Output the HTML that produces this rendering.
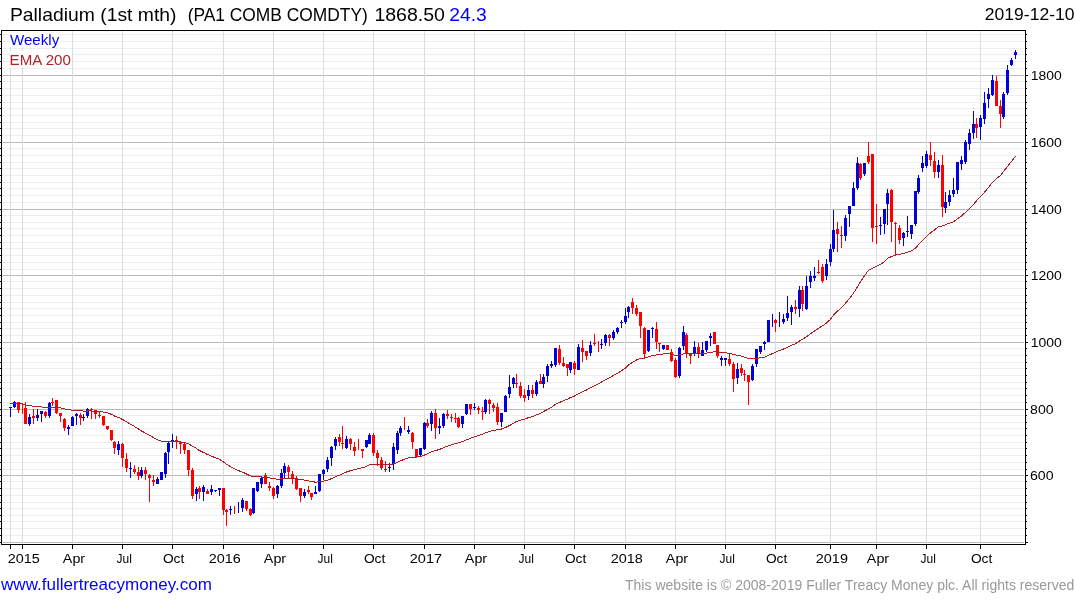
<!DOCTYPE html>
<html><head><meta charset="utf-8"><style>
html,body{margin:0;padding:0;background:#fff;width:1075px;height:600px;overflow:hidden}
svg{display:block;font-family:"Liberation Sans",sans-serif;will-change:transform}
</style></head><body>
<svg width="1075" height="600" viewBox="0 0 1075 600">
<rect x="0" y="0" width="1075" height="600" fill="#fff"/>
<g shape-rendering="crispEdges"><rect x="2" y="542" width="1022" height="1" fill="#b9b9b9"/><rect x="2" y="535" width="1022" height="1" fill="#eeeeee"/><rect x="2" y="528" width="1022" height="1" fill="#eeeeee"/><rect x="2" y="521" width="1022" height="1" fill="#eeeeee"/><rect x="2" y="515" width="1022" height="1" fill="#eeeeee"/><rect x="2" y="508" width="1022" height="1" fill="#eeeeee"/><rect x="2" y="502" width="1022" height="1" fill="#eeeeee"/><rect x="2" y="495" width="1022" height="1" fill="#eeeeee"/><rect x="2" y="488" width="1022" height="1" fill="#eeeeee"/><rect x="2" y="481" width="1022" height="1" fill="#eeeeee"/><rect x="2" y="475" width="1022" height="1" fill="#b9b9b9"/><rect x="2" y="469" width="1022" height="1" fill="#eeeeee"/><rect x="2" y="462" width="1022" height="1" fill="#eeeeee"/><rect x="2" y="455" width="1022" height="1" fill="#eeeeee"/><rect x="2" y="448" width="1022" height="1" fill="#eeeeee"/><rect x="2" y="442" width="1022" height="1" fill="#eeeeee"/><rect x="2" y="435" width="1022" height="1" fill="#eeeeee"/><rect x="2" y="428" width="1022" height="1" fill="#eeeeee"/><rect x="2" y="422" width="1022" height="1" fill="#eeeeee"/><rect x="2" y="415" width="1022" height="1" fill="#eeeeee"/><rect x="2" y="409" width="1022" height="1" fill="#b9b9b9"/><rect x="2" y="402" width="1022" height="1" fill="#eeeeee"/><rect x="2" y="395" width="1022" height="1" fill="#eeeeee"/><rect x="2" y="388" width="1022" height="1" fill="#eeeeee"/><rect x="2" y="382" width="1022" height="1" fill="#eeeeee"/><rect x="2" y="375" width="1022" height="1" fill="#eeeeee"/><rect x="2" y="368" width="1022" height="1" fill="#eeeeee"/><rect x="2" y="362" width="1022" height="1" fill="#eeeeee"/><rect x="2" y="355" width="1022" height="1" fill="#eeeeee"/><rect x="2" y="348" width="1022" height="1" fill="#eeeeee"/><rect x="2" y="342" width="1022" height="1" fill="#b9b9b9"/><rect x="2" y="335" width="1022" height="1" fill="#eeeeee"/><rect x="2" y="328" width="1022" height="1" fill="#eeeeee"/><rect x="2" y="322" width="1022" height="1" fill="#eeeeee"/><rect x="2" y="315" width="1022" height="1" fill="#eeeeee"/><rect x="2" y="308" width="1022" height="1" fill="#eeeeee"/><rect x="2" y="302" width="1022" height="1" fill="#eeeeee"/><rect x="2" y="295" width="1022" height="1" fill="#eeeeee"/><rect x="2" y="288" width="1022" height="1" fill="#eeeeee"/><rect x="2" y="281" width="1022" height="1" fill="#eeeeee"/><rect x="2" y="275" width="1022" height="1" fill="#b9b9b9"/><rect x="2" y="269" width="1022" height="1" fill="#eeeeee"/><rect x="2" y="262" width="1022" height="1" fill="#eeeeee"/><rect x="2" y="255" width="1022" height="1" fill="#eeeeee"/><rect x="2" y="248" width="1022" height="1" fill="#eeeeee"/><rect x="2" y="242" width="1022" height="1" fill="#eeeeee"/><rect x="2" y="235" width="1022" height="1" fill="#eeeeee"/><rect x="2" y="228" width="1022" height="1" fill="#eeeeee"/><rect x="2" y="222" width="1022" height="1" fill="#eeeeee"/><rect x="2" y="215" width="1022" height="1" fill="#eeeeee"/><rect x="2" y="209" width="1022" height="1" fill="#b9b9b9"/><rect x="2" y="202" width="1022" height="1" fill="#eeeeee"/><rect x="2" y="195" width="1022" height="1" fill="#eeeeee"/><rect x="2" y="188" width="1022" height="1" fill="#eeeeee"/><rect x="2" y="182" width="1022" height="1" fill="#eeeeee"/><rect x="2" y="175" width="1022" height="1" fill="#eeeeee"/><rect x="2" y="168" width="1022" height="1" fill="#eeeeee"/><rect x="2" y="162" width="1022" height="1" fill="#eeeeee"/><rect x="2" y="155" width="1022" height="1" fill="#eeeeee"/><rect x="2" y="148" width="1022" height="1" fill="#eeeeee"/><rect x="2" y="142" width="1022" height="1" fill="#b9b9b9"/><rect x="2" y="135" width="1022" height="1" fill="#eeeeee"/><rect x="2" y="128" width="1022" height="1" fill="#eeeeee"/><rect x="2" y="122" width="1022" height="1" fill="#eeeeee"/><rect x="2" y="115" width="1022" height="1" fill="#eeeeee"/><rect x="2" y="108" width="1022" height="1" fill="#eeeeee"/><rect x="2" y="102" width="1022" height="1" fill="#eeeeee"/><rect x="2" y="95" width="1022" height="1" fill="#eeeeee"/><rect x="2" y="88" width="1022" height="1" fill="#eeeeee"/><rect x="2" y="81" width="1022" height="1" fill="#eeeeee"/><rect x="2" y="75" width="1022" height="1" fill="#b9b9b9"/><rect x="2" y="68" width="1022" height="1" fill="#eeeeee"/><rect x="2" y="61" width="1022" height="1" fill="#eeeeee"/><rect x="2" y="54" width="1022" height="1" fill="#eeeeee"/><rect x="2" y="48" width="1022" height="1" fill="#eeeeee"/><rect x="2" y="41" width="1022" height="1" fill="#eeeeee"/><rect x="2" y="34" width="1022" height="1" fill="#eeeeee"/><rect x="10" y="31" width="1" height="513" fill="#dcdcdc"/><rect x="22" y="31" width="1" height="513" fill="#dcdcdc"/><rect x="72" y="31" width="1" height="513" fill="#dcdcdc"/><rect x="122" y="31" width="1" height="513" fill="#dcdcdc"/><rect x="172" y="31" width="1" height="513" fill="#dcdcdc"/><rect x="223" y="31" width="1" height="513" fill="#dcdcdc"/><rect x="273" y="31" width="1" height="513" fill="#dcdcdc"/><rect x="323" y="31" width="1" height="513" fill="#dcdcdc"/><rect x="373" y="31" width="1" height="513" fill="#dcdcdc"/><rect x="424" y="31" width="1" height="513" fill="#dcdcdc"/><rect x="474" y="31" width="1" height="513" fill="#dcdcdc"/><rect x="524" y="31" width="1" height="513" fill="#dcdcdc"/><rect x="574" y="31" width="1" height="513" fill="#dcdcdc"/><rect x="625" y="31" width="1" height="513" fill="#dcdcdc"/><rect x="675" y="31" width="1" height="513" fill="#dcdcdc"/><rect x="725" y="31" width="1" height="513" fill="#dcdcdc"/><rect x="775" y="31" width="1" height="513" fill="#dcdcdc"/><rect x="830" y="31" width="1" height="513" fill="#dcdcdc"/><rect x="876" y="31" width="1" height="513" fill="#dcdcdc"/><rect x="926" y="31" width="1" height="513" fill="#dcdcdc"/><rect x="980" y="31" width="1" height="513" fill="#dcdcdc"/></g>
<rect x="10" y="31" width="50" height="16" fill="#fff"/>
<rect x="10" y="51" width="62" height="17" fill="#fff"/>
<g shape-rendering="crispEdges"><rect x="10" y="407" width="1" height="10" fill="#0000dd"/><rect x="9" y="407" width="3" height="1" fill="#0000dd"/><rect x="14" y="401" width="1" height="7" fill="#0000dd"/><rect x="13" y="402" width="3" height="5" fill="#0000dd"/><rect x="18" y="402" width="1" height="11" fill="#ff0000"/><rect x="17" y="402" width="3" height="8" fill="#ff0000"/><rect x="22" y="405" width="1" height="9" fill="#ff0000"/><rect x="25" y="402" width="1" height="22" fill="#ff0000"/><rect x="24" y="408" width="3" height="16" fill="#ff0000"/><rect x="29" y="414" width="1" height="12" fill="#0000dd"/><rect x="28" y="417" width="3" height="7" fill="#0000dd"/><rect x="33" y="409" width="1" height="15" fill="#ff0000"/><rect x="32" y="416" width="3" height="2" fill="#ff0000"/><rect x="37" y="409" width="1" height="12" fill="#0000dd"/><rect x="36" y="415" width="3" height="3" fill="#0000dd"/><rect x="41" y="411" width="1" height="11" fill="#0000dd"/><rect x="40" y="411" width="3" height="3" fill="#0000dd"/><rect x="45" y="411" width="1" height="7" fill="#ff0000"/><rect x="44" y="412" width="3" height="4" fill="#ff0000"/><rect x="49" y="402" width="1" height="16" fill="#0000dd"/><rect x="48" y="403" width="3" height="13" fill="#0000dd"/><rect x="52" y="398" width="1" height="8" fill="#ff0000"/><rect x="51" y="402" width="3" height="1" fill="#ff0000"/><rect x="56" y="400" width="1" height="14" fill="#ff0000"/><rect x="55" y="400" width="3" height="13" fill="#ff0000"/><rect x="60" y="413" width="1" height="9" fill="#ff0000"/><rect x="59" y="413" width="3" height="3" fill="#ff0000"/><rect x="64" y="418" width="1" height="13" fill="#ff0000"/><rect x="63" y="419" width="3" height="9" fill="#ff0000"/><rect x="68" y="425" width="1" height="10" fill="#0000dd"/><rect x="67" y="427" width="3" height="2" fill="#0000dd"/><rect x="72" y="416" width="1" height="10" fill="#0000dd"/><rect x="71" y="417" width="3" height="9" fill="#0000dd"/><rect x="76" y="413" width="1" height="12" fill="#0000dd"/><rect x="75" y="414" width="3" height="2" fill="#0000dd"/><rect x="80" y="413" width="1" height="12" fill="#ff0000"/><rect x="79" y="415" width="3" height="3" fill="#ff0000"/><rect x="83" y="414" width="1" height="7" fill="#0000dd"/><rect x="82" y="417" width="3" height="1" fill="#0000dd"/><rect x="87" y="408" width="1" height="10" fill="#0000dd"/><rect x="86" y="409" width="3" height="7" fill="#0000dd"/><rect x="91" y="408" width="1" height="11" fill="#ff0000"/><rect x="90" y="409" width="3" height="1" fill="#ff0000"/><rect x="95" y="410" width="1" height="9" fill="#ff0000"/><rect x="94" y="410" width="3" height="4" fill="#ff0000"/><rect x="99" y="412" width="1" height="6" fill="#ff0000"/><rect x="98" y="415" width="3" height="1" fill="#ff0000"/><rect x="103" y="416" width="1" height="10" fill="#ff0000"/><rect x="102" y="416" width="3" height="9" fill="#ff0000"/><rect x="107" y="426" width="1" height="4" fill="#ff0000"/><rect x="106" y="426" width="3" height="3" fill="#ff0000"/><rect x="111" y="430" width="1" height="11" fill="#ff0000"/><rect x="110" y="430" width="3" height="10" fill="#ff0000"/><rect x="114" y="441" width="1" height="13" fill="#ff0000"/><rect x="113" y="442" width="3" height="6" fill="#ff0000"/><rect x="118" y="441" width="1" height="14" fill="#0000dd"/><rect x="117" y="444" width="3" height="6" fill="#0000dd"/><rect x="122" y="443" width="1" height="24" fill="#ff0000"/><rect x="121" y="444" width="3" height="14" fill="#ff0000"/><rect x="126" y="453" width="1" height="19" fill="#ff0000"/><rect x="125" y="459" width="3" height="9" fill="#ff0000"/><rect x="130" y="462" width="1" height="16" fill="#0000dd"/><rect x="129" y="468" width="3" height="1" fill="#0000dd"/><rect x="134" y="465" width="1" height="9" fill="#ff0000"/><rect x="133" y="469" width="3" height="3" fill="#ff0000"/><rect x="138" y="467" width="1" height="13" fill="#ff0000"/><rect x="137" y="472" width="3" height="4" fill="#ff0000"/><rect x="141" y="467" width="1" height="11" fill="#0000dd"/><rect x="140" y="470" width="3" height="6" fill="#0000dd"/><rect x="145" y="467" width="1" height="13" fill="#ff0000"/><rect x="144" y="470" width="3" height="4" fill="#ff0000"/><rect x="149" y="474" width="1" height="28" fill="#ff0000"/><rect x="148" y="475" width="3" height="3" fill="#ff0000"/><rect x="153" y="475" width="1" height="11" fill="#ff0000"/><rect x="152" y="480" width="3" height="2" fill="#ff0000"/><rect x="157" y="477" width="1" height="7" fill="#0000dd"/><rect x="156" y="479" width="3" height="5" fill="#0000dd"/><rect x="161" y="472" width="1" height="8" fill="#0000dd"/><rect x="160" y="472" width="3" height="8" fill="#0000dd"/><rect x="165" y="452" width="1" height="26" fill="#0000dd"/><rect x="164" y="453" width="3" height="21" fill="#0000dd"/><rect x="168" y="442" width="1" height="22" fill="#0000dd"/><rect x="167" y="443" width="3" height="9" fill="#0000dd"/><rect x="172" y="434" width="1" height="14" fill="#0000dd"/><rect x="171" y="440" width="3" height="1" fill="#0000dd"/><rect x="176" y="436" width="1" height="13" fill="#ff0000"/><rect x="175" y="440" width="3" height="1" fill="#ff0000"/><rect x="180" y="442" width="1" height="12" fill="#ff0000"/><rect x="179" y="442" width="3" height="2" fill="#ff0000"/><rect x="184" y="443" width="1" height="11" fill="#ff0000"/><rect x="183" y="444" width="3" height="6" fill="#ff0000"/><rect x="188" y="450" width="1" height="26" fill="#ff0000"/><rect x="187" y="450" width="3" height="20" fill="#ff0000"/><rect x="192" y="468" width="1" height="31" fill="#ff0000"/><rect x="191" y="470" width="3" height="26" fill="#ff0000"/><rect x="196" y="487" width="1" height="14" fill="#0000dd"/><rect x="195" y="489" width="3" height="5" fill="#0000dd"/><rect x="199" y="486" width="1" height="13" fill="#ff0000"/><rect x="198" y="488" width="3" height="4" fill="#ff0000"/><rect x="203" y="485" width="1" height="16" fill="#0000dd"/><rect x="202" y="487" width="3" height="5" fill="#0000dd"/><rect x="207" y="489" width="1" height="5" fill="#ff0000"/><rect x="206" y="491" width="3" height="3" fill="#ff0000"/><rect x="211" y="485" width="1" height="10" fill="#0000dd"/><rect x="210" y="489" width="3" height="3" fill="#0000dd"/><rect x="215" y="490" width="1" height="2" fill="#0000dd"/><rect x="214" y="490" width="3" height="1" fill="#0000dd"/><rect x="219" y="488" width="1" height="8" fill="#0000dd"/><rect x="218" y="488" width="3" height="2" fill="#0000dd"/><rect x="223" y="488" width="1" height="27" fill="#ff0000"/><rect x="222" y="488" width="3" height="22" fill="#ff0000"/><rect x="226" y="509" width="1" height="17" fill="#ff0000"/><rect x="225" y="510" width="3" height="2" fill="#ff0000"/><rect x="230" y="506" width="1" height="9" fill="#0000dd"/><rect x="229" y="509" width="3" height="1" fill="#0000dd"/><rect x="234" y="506" width="1" height="8" fill="#ff0000"/><rect x="238" y="502" width="1" height="11" fill="#0000dd"/><rect x="242" y="498" width="1" height="14" fill="#0000dd"/><rect x="241" y="500" width="3" height="8" fill="#0000dd"/><rect x="246" y="501" width="1" height="10" fill="#ff0000"/><rect x="245" y="501" width="3" height="8" fill="#ff0000"/><rect x="250" y="508" width="1" height="8" fill="#ff0000"/><rect x="249" y="509" width="3" height="6" fill="#ff0000"/><rect x="253" y="488" width="1" height="26" fill="#0000dd"/><rect x="252" y="488" width="3" height="25" fill="#0000dd"/><rect x="257" y="482" width="1" height="10" fill="#0000dd"/><rect x="256" y="482" width="3" height="9" fill="#0000dd"/><rect x="261" y="476" width="1" height="12" fill="#0000dd"/><rect x="260" y="478" width="3" height="6" fill="#0000dd"/><rect x="265" y="473" width="1" height="11" fill="#ff0000"/><rect x="264" y="475" width="3" height="9" fill="#ff0000"/><rect x="269" y="482" width="1" height="9" fill="#ff0000"/><rect x="268" y="486" width="3" height="2" fill="#ff0000"/><rect x="273" y="487" width="1" height="12" fill="#ff0000"/><rect x="272" y="488" width="3" height="8" fill="#ff0000"/><rect x="277" y="485" width="1" height="13" fill="#0000dd"/><rect x="276" y="486" width="3" height="8" fill="#0000dd"/><rect x="281" y="469" width="1" height="19" fill="#0000dd"/><rect x="280" y="473" width="3" height="13" fill="#0000dd"/><rect x="284" y="463" width="1" height="15" fill="#0000dd"/><rect x="283" y="466" width="3" height="7" fill="#0000dd"/><rect x="288" y="465" width="1" height="13" fill="#ff0000"/><rect x="287" y="467" width="3" height="5" fill="#ff0000"/><rect x="292" y="471" width="1" height="13" fill="#ff0000"/><rect x="291" y="474" width="3" height="4" fill="#ff0000"/><rect x="296" y="476" width="1" height="14" fill="#ff0000"/><rect x="295" y="478" width="3" height="11" fill="#ff0000"/><rect x="300" y="488" width="1" height="14" fill="#ff0000"/><rect x="299" y="488" width="3" height="8" fill="#ff0000"/><rect x="304" y="489" width="1" height="9" fill="#0000dd"/><rect x="303" y="492" width="3" height="4" fill="#0000dd"/><rect x="308" y="486" width="1" height="8" fill="#ff0000"/><rect x="307" y="490" width="3" height="2" fill="#ff0000"/><rect x="311" y="493" width="1" height="7" fill="#ff0000"/><rect x="310" y="493" width="3" height="4" fill="#ff0000"/><rect x="315" y="486" width="1" height="8" fill="#0000dd"/><rect x="314" y="492" width="3" height="2" fill="#0000dd"/><rect x="319" y="474" width="1" height="18" fill="#0000dd"/><rect x="318" y="474" width="3" height="17" fill="#0000dd"/><rect x="323" y="469" width="1" height="11" fill="#0000dd"/><rect x="322" y="470" width="3" height="4" fill="#0000dd"/><rect x="327" y="457" width="1" height="15" fill="#0000dd"/><rect x="326" y="460" width="3" height="9" fill="#0000dd"/><rect x="331" y="446" width="1" height="20" fill="#0000dd"/><rect x="330" y="447" width="3" height="11" fill="#0000dd"/><rect x="335" y="437" width="1" height="13" fill="#0000dd"/><rect x="334" y="439" width="3" height="7" fill="#0000dd"/><rect x="339" y="434" width="1" height="12" fill="#ff0000"/><rect x="338" y="437" width="3" height="5" fill="#ff0000"/><rect x="342" y="426" width="1" height="23" fill="#ff0000"/><rect x="341" y="443" width="3" height="1" fill="#ff0000"/><rect x="346" y="436" width="1" height="13" fill="#0000dd"/><rect x="345" y="439" width="3" height="9" fill="#0000dd"/><rect x="350" y="438" width="1" height="12" fill="#ff0000"/><rect x="349" y="439" width="3" height="5" fill="#ff0000"/><rect x="354" y="442" width="1" height="14" fill="#ff0000"/><rect x="353" y="447" width="3" height="4" fill="#ff0000"/><rect x="358" y="439" width="1" height="11" fill="#ff0000"/><rect x="362" y="449" width="1" height="9" fill="#ff0000"/><rect x="361" y="449" width="3" height="2" fill="#ff0000"/><rect x="366" y="440" width="1" height="8" fill="#0000dd"/><rect x="365" y="440" width="3" height="7" fill="#0000dd"/><rect x="369" y="433" width="1" height="11" fill="#0000dd"/><rect x="368" y="435" width="3" height="9" fill="#0000dd"/><rect x="373" y="433" width="1" height="23" fill="#ff0000"/><rect x="372" y="435" width="3" height="18" fill="#ff0000"/><rect x="377" y="450" width="1" height="16" fill="#ff0000"/><rect x="376" y="453" width="3" height="5" fill="#ff0000"/><rect x="381" y="457" width="1" height="13" fill="#ff0000"/><rect x="380" y="460" width="3" height="8" fill="#ff0000"/><rect x="385" y="461" width="1" height="11" fill="#ff0000"/><rect x="384" y="469" width="3" height="1" fill="#ff0000"/><rect x="389" y="463" width="1" height="9" fill="#0000dd"/><rect x="388" y="467" width="3" height="1" fill="#0000dd"/><rect x="393" y="443" width="1" height="27" fill="#0000dd"/><rect x="392" y="447" width="3" height="17" fill="#0000dd"/><rect x="397" y="431" width="1" height="23" fill="#0000dd"/><rect x="396" y="433" width="3" height="17" fill="#0000dd"/><rect x="400" y="426" width="1" height="10" fill="#0000dd"/><rect x="399" y="428" width="3" height="5" fill="#0000dd"/><rect x="404" y="417" width="1" height="13" fill="#ff0000"/><rect x="408" y="426" width="1" height="8" fill="#0000dd"/><rect x="407" y="430" width="3" height="2" fill="#0000dd"/><rect x="412" y="432" width="1" height="17" fill="#ff0000"/><rect x="411" y="433" width="3" height="9" fill="#ff0000"/><rect x="416" y="449" width="1" height="8" fill="#ff0000"/><rect x="415" y="449" width="3" height="8" fill="#ff0000"/><rect x="420" y="448" width="1" height="8" fill="#0000dd"/><rect x="419" y="448" width="3" height="7" fill="#0000dd"/><rect x="424" y="422" width="1" height="28" fill="#0000dd"/><rect x="423" y="423" width="3" height="26" fill="#0000dd"/><rect x="427" y="419" width="1" height="9" fill="#ff0000"/><rect x="426" y="423" width="3" height="3" fill="#ff0000"/><rect x="431" y="411" width="1" height="20" fill="#0000dd"/><rect x="430" y="413" width="3" height="11" fill="#0000dd"/><rect x="435" y="409" width="1" height="30" fill="#ff0000"/><rect x="434" y="413" width="3" height="15" fill="#ff0000"/><rect x="439" y="418" width="1" height="16" fill="#0000dd"/><rect x="438" y="426" width="3" height="2" fill="#0000dd"/><rect x="443" y="413" width="1" height="15" fill="#0000dd"/><rect x="442" y="414" width="3" height="12" fill="#0000dd"/><rect x="447" y="410" width="1" height="9" fill="#ff0000"/><rect x="446" y="414" width="3" height="2" fill="#ff0000"/><rect x="451" y="414" width="1" height="8" fill="#ff0000"/><rect x="450" y="417" width="3" height="1" fill="#ff0000"/><rect x="455" y="413" width="1" height="10" fill="#ff0000"/><rect x="454" y="418" width="3" height="1" fill="#ff0000"/><rect x="458" y="417" width="1" height="11" fill="#ff0000"/><rect x="457" y="418" width="3" height="9" fill="#ff0000"/><rect x="462" y="416" width="1" height="12" fill="#0000dd"/><rect x="461" y="416" width="3" height="8" fill="#0000dd"/><rect x="466" y="404" width="1" height="11" fill="#0000dd"/><rect x="465" y="404" width="3" height="10" fill="#0000dd"/><rect x="470" y="404" width="1" height="11" fill="#ff0000"/><rect x="469" y="404" width="3" height="5" fill="#ff0000"/><rect x="474" y="403" width="1" height="7" fill="#0000dd"/><rect x="473" y="407" width="3" height="1" fill="#0000dd"/><rect x="478" y="406" width="1" height="8" fill="#ff0000"/><rect x="477" y="408" width="3" height="2" fill="#ff0000"/><rect x="482" y="407" width="1" height="13" fill="#ff0000"/><rect x="481" y="411" width="3" height="1" fill="#ff0000"/><rect x="485" y="399" width="1" height="15" fill="#0000dd"/><rect x="484" y="400" width="3" height="12" fill="#0000dd"/><rect x="489" y="399" width="1" height="15" fill="#ff0000"/><rect x="488" y="400" width="3" height="4" fill="#ff0000"/><rect x="493" y="403" width="1" height="9" fill="#ff0000"/><rect x="492" y="405" width="3" height="3" fill="#ff0000"/><rect x="497" y="403" width="1" height="22" fill="#ff0000"/><rect x="496" y="407" width="3" height="15" fill="#ff0000"/><rect x="501" y="413" width="1" height="14" fill="#0000dd"/><rect x="500" y="413" width="3" height="9" fill="#0000dd"/><rect x="505" y="395" width="1" height="17" fill="#0000dd"/><rect x="504" y="396" width="3" height="16" fill="#0000dd"/><rect x="509" y="375" width="1" height="23" fill="#0000dd"/><rect x="508" y="387" width="3" height="7" fill="#0000dd"/><rect x="513" y="377" width="1" height="11" fill="#0000dd"/><rect x="512" y="378" width="3" height="6" fill="#0000dd"/><rect x="516" y="374" width="1" height="14" fill="#ff0000"/><rect x="515" y="383" width="3" height="1" fill="#ff0000"/><rect x="520" y="382" width="1" height="16" fill="#ff0000"/><rect x="519" y="386" width="3" height="10" fill="#ff0000"/><rect x="524" y="389" width="1" height="13" fill="#ff0000"/><rect x="523" y="395" width="3" height="3" fill="#ff0000"/><rect x="528" y="385" width="1" height="15" fill="#0000dd"/><rect x="527" y="390" width="3" height="6" fill="#0000dd"/><rect x="532" y="385" width="1" height="13" fill="#ff0000"/><rect x="531" y="390" width="3" height="4" fill="#ff0000"/><rect x="536" y="380" width="1" height="16" fill="#0000dd"/><rect x="535" y="382" width="3" height="12" fill="#0000dd"/><rect x="540" y="374" width="1" height="10" fill="#ff0000"/><rect x="539" y="381" width="3" height="3" fill="#ff0000"/><rect x="543" y="374" width="1" height="14" fill="#0000dd"/><rect x="542" y="377" width="3" height="7" fill="#0000dd"/><rect x="547" y="364" width="1" height="18" fill="#0000dd"/><rect x="546" y="366" width="3" height="10" fill="#0000dd"/><rect x="551" y="361" width="1" height="7" fill="#0000dd"/><rect x="550" y="364" width="3" height="2" fill="#0000dd"/><rect x="555" y="348" width="1" height="19" fill="#0000dd"/><rect x="554" y="348" width="3" height="17" fill="#0000dd"/><rect x="559" y="345" width="1" height="20" fill="#ff0000"/><rect x="558" y="349" width="3" height="14" fill="#ff0000"/><rect x="563" y="357" width="1" height="10" fill="#ff0000"/><rect x="562" y="363" width="3" height="3" fill="#ff0000"/><rect x="567" y="364" width="1" height="12" fill="#ff0000"/><rect x="566" y="364" width="3" height="4" fill="#ff0000"/><rect x="570" y="362" width="1" height="11" fill="#0000dd"/><rect x="569" y="362" width="3" height="8" fill="#0000dd"/><rect x="574" y="361" width="1" height="14" fill="#ff0000"/><rect x="573" y="363" width="3" height="6" fill="#ff0000"/><rect x="578" y="344" width="1" height="26" fill="#0000dd"/><rect x="577" y="347" width="3" height="23" fill="#0000dd"/><rect x="582" y="340" width="1" height="22" fill="#ff0000"/><rect x="581" y="348" width="3" height="4" fill="#ff0000"/><rect x="586" y="351" width="1" height="9" fill="#ff0000"/><rect x="585" y="351" width="3" height="5" fill="#ff0000"/><rect x="590" y="341" width="1" height="15" fill="#0000dd"/><rect x="589" y="345" width="3" height="8" fill="#0000dd"/><rect x="594" y="334" width="1" height="12" fill="#ff0000"/><rect x="593" y="343" width="3" height="1" fill="#ff0000"/><rect x="598" y="341" width="1" height="11" fill="#ff0000"/><rect x="601" y="339" width="1" height="10" fill="#0000dd"/><rect x="600" y="344" width="3" height="1" fill="#0000dd"/><rect x="605" y="334" width="1" height="12" fill="#0000dd"/><rect x="604" y="335" width="3" height="8" fill="#0000dd"/><rect x="609" y="334" width="1" height="12" fill="#ff0000"/><rect x="608" y="335" width="3" height="3" fill="#ff0000"/><rect x="613" y="330" width="1" height="10" fill="#0000dd"/><rect x="612" y="332" width="3" height="6" fill="#0000dd"/><rect x="617" y="327" width="1" height="7" fill="#0000dd"/><rect x="616" y="328" width="3" height="4" fill="#0000dd"/><rect x="621" y="320" width="1" height="8" fill="#0000dd"/><rect x="620" y="322" width="3" height="1" fill="#0000dd"/><rect x="625" y="308" width="1" height="16" fill="#0000dd"/><rect x="624" y="316" width="3" height="6" fill="#0000dd"/><rect x="628" y="306" width="1" height="12" fill="#0000dd"/><rect x="627" y="307" width="3" height="5" fill="#0000dd"/><rect x="632" y="298" width="1" height="16" fill="#ff0000"/><rect x="631" y="302" width="3" height="6" fill="#ff0000"/><rect x="636" y="305" width="1" height="11" fill="#ff0000"/><rect x="635" y="308" width="3" height="6" fill="#ff0000"/><rect x="640" y="312" width="1" height="26" fill="#ff0000"/><rect x="639" y="312" width="3" height="14" fill="#ff0000"/><rect x="644" y="327" width="1" height="31" fill="#ff0000"/><rect x="643" y="328" width="3" height="26" fill="#ff0000"/><rect x="648" y="330" width="1" height="22" fill="#0000dd"/><rect x="647" y="330" width="3" height="21" fill="#0000dd"/><rect x="652" y="327" width="1" height="11" fill="#0000dd"/><rect x="651" y="328" width="3" height="1" fill="#0000dd"/><rect x="656" y="322" width="1" height="27" fill="#ff0000"/><rect x="655" y="329" width="3" height="13" fill="#ff0000"/><rect x="659" y="343" width="1" height="9" fill="#ff0000"/><rect x="658" y="343" width="3" height="1" fill="#ff0000"/><rect x="663" y="345" width="1" height="5" fill="#0000dd"/><rect x="662" y="345" width="3" height="4" fill="#0000dd"/><rect x="667" y="345" width="1" height="5" fill="#ff0000"/><rect x="666" y="345" width="3" height="5" fill="#ff0000"/><rect x="671" y="349" width="1" height="13" fill="#ff0000"/><rect x="670" y="352" width="3" height="9" fill="#ff0000"/><rect x="675" y="358" width="1" height="20" fill="#ff0000"/><rect x="674" y="360" width="3" height="17" fill="#ff0000"/><rect x="679" y="347" width="1" height="31" fill="#0000dd"/><rect x="678" y="348" width="3" height="28" fill="#0000dd"/><rect x="683" y="326" width="1" height="24" fill="#0000dd"/><rect x="682" y="332" width="3" height="14" fill="#0000dd"/><rect x="686" y="333" width="1" height="25" fill="#ff0000"/><rect x="685" y="335" width="3" height="18" fill="#ff0000"/><rect x="690" y="354" width="1" height="10" fill="#ff0000"/><rect x="689" y="354" width="3" height="2" fill="#ff0000"/><rect x="694" y="341" width="1" height="15" fill="#0000dd"/><rect x="693" y="347" width="3" height="7" fill="#0000dd"/><rect x="698" y="343" width="1" height="15" fill="#ff0000"/><rect x="697" y="347" width="3" height="7" fill="#ff0000"/><rect x="702" y="342" width="1" height="14" fill="#0000dd"/><rect x="701" y="350" width="3" height="6" fill="#0000dd"/><rect x="706" y="341" width="1" height="11" fill="#0000dd"/><rect x="705" y="341" width="3" height="9" fill="#0000dd"/><rect x="710" y="333" width="1" height="13" fill="#0000dd"/><rect x="709" y="336" width="3" height="2" fill="#0000dd"/><rect x="714" y="332" width="1" height="12" fill="#ff0000"/><rect x="713" y="332" width="3" height="12" fill="#ff0000"/><rect x="717" y="345" width="1" height="13" fill="#ff0000"/><rect x="716" y="345" width="3" height="11" fill="#ff0000"/><rect x="721" y="356" width="1" height="10" fill="#0000dd"/><rect x="720" y="358" width="3" height="2" fill="#0000dd"/><rect x="725" y="358" width="1" height="8" fill="#0000dd"/><rect x="724" y="358" width="3" height="2" fill="#0000dd"/><rect x="729" y="354" width="1" height="12" fill="#ff0000"/><rect x="728" y="359" width="3" height="5" fill="#ff0000"/><rect x="733" y="362" width="1" height="30" fill="#ff0000"/><rect x="732" y="364" width="3" height="15" fill="#ff0000"/><rect x="737" y="363" width="1" height="21" fill="#0000dd"/><rect x="736" y="369" width="3" height="9" fill="#0000dd"/><rect x="741" y="364" width="1" height="12" fill="#ff0000"/><rect x="740" y="368" width="3" height="5" fill="#ff0000"/><rect x="744" y="370" width="1" height="11" fill="#ff0000"/><rect x="743" y="374" width="3" height="1" fill="#ff0000"/><rect x="748" y="375" width="1" height="30" fill="#ff0000"/><rect x="747" y="375" width="3" height="7" fill="#ff0000"/><rect x="752" y="364" width="1" height="17" fill="#0000dd"/><rect x="751" y="366" width="3" height="14" fill="#0000dd"/><rect x="756" y="349" width="1" height="18" fill="#0000dd"/><rect x="755" y="349" width="3" height="15" fill="#0000dd"/><rect x="760" y="346" width="1" height="8" fill="#0000dd"/><rect x="759" y="346" width="3" height="6" fill="#0000dd"/><rect x="764" y="341" width="1" height="9" fill="#0000dd"/><rect x="763" y="342" width="3" height="2" fill="#0000dd"/><rect x="768" y="320" width="1" height="22" fill="#0000dd"/><rect x="767" y="320" width="3" height="22" fill="#0000dd"/><rect x="772" y="314" width="1" height="13" fill="#0000dd"/><rect x="775" y="319" width="1" height="13" fill="#ff0000"/><rect x="774" y="320" width="3" height="3" fill="#ff0000"/><rect x="779" y="312" width="1" height="15" fill="#0000dd"/><rect x="783" y="314" width="1" height="10" fill="#0000dd"/><rect x="782" y="319" width="3" height="3" fill="#0000dd"/><rect x="787" y="296" width="1" height="25" fill="#0000dd"/><rect x="786" y="313" width="3" height="5" fill="#0000dd"/><rect x="791" y="305" width="1" height="20" fill="#0000dd"/><rect x="790" y="307" width="3" height="5" fill="#0000dd"/><rect x="795" y="300" width="1" height="14" fill="#ff0000"/><rect x="794" y="307" width="3" height="2" fill="#ff0000"/><rect x="799" y="286" width="1" height="31" fill="#0000dd"/><rect x="798" y="290" width="3" height="19" fill="#0000dd"/><rect x="802" y="286" width="1" height="25" fill="#ff0000"/><rect x="801" y="290" width="3" height="14" fill="#ff0000"/><rect x="806" y="276" width="1" height="34" fill="#0000dd"/><rect x="805" y="286" width="3" height="23" fill="#0000dd"/><rect x="810" y="271" width="1" height="17" fill="#0000dd"/><rect x="809" y="276" width="3" height="6" fill="#0000dd"/><rect x="814" y="267" width="1" height="14" fill="#0000dd"/><rect x="813" y="276" width="3" height="2" fill="#0000dd"/><rect x="818" y="260" width="1" height="14" fill="#ff0000"/><rect x="817" y="272" width="3" height="1" fill="#ff0000"/><rect x="822" y="264" width="1" height="19" fill="#ff0000"/><rect x="821" y="267" width="3" height="14" fill="#ff0000"/><rect x="826" y="259" width="1" height="21" fill="#0000dd"/><rect x="825" y="264" width="3" height="12" fill="#0000dd"/><rect x="830" y="244" width="1" height="22" fill="#0000dd"/><rect x="829" y="249" width="3" height="13" fill="#0000dd"/><rect x="833" y="210" width="1" height="42" fill="#0000dd"/><rect x="832" y="230" width="3" height="19" fill="#0000dd"/><rect x="837" y="222" width="1" height="30" fill="#ff0000"/><rect x="836" y="229" width="3" height="5" fill="#ff0000"/><rect x="841" y="226" width="1" height="22" fill="#ff0000"/><rect x="840" y="235" width="3" height="1" fill="#ff0000"/><rect x="845" y="215" width="1" height="26" fill="#0000dd"/><rect x="844" y="218" width="3" height="18" fill="#0000dd"/><rect x="849" y="206" width="1" height="21" fill="#0000dd"/><rect x="848" y="206" width="3" height="8" fill="#0000dd"/><rect x="853" y="182" width="1" height="24" fill="#0000dd"/><rect x="852" y="188" width="3" height="18" fill="#0000dd"/><rect x="857" y="157" width="1" height="33" fill="#0000dd"/><rect x="856" y="163" width="3" height="25" fill="#0000dd"/><rect x="860" y="163" width="1" height="17" fill="#ff0000"/><rect x="859" y="164" width="3" height="14" fill="#ff0000"/><rect x="864" y="163" width="1" height="13" fill="#0000dd"/><rect x="863" y="163" width="3" height="11" fill="#0000dd"/><rect x="868" y="142" width="1" height="22" fill="#ff0000"/><rect x="867" y="156" width="3" height="6" fill="#ff0000"/><rect x="872" y="154" width="1" height="88" fill="#ff0000"/><rect x="871" y="154" width="3" height="74" fill="#ff0000"/><rect x="876" y="204" width="1" height="40" fill="#ff0000"/><rect x="875" y="226" width="3" height="1" fill="#ff0000"/><rect x="880" y="217" width="1" height="18" fill="#0000dd"/><rect x="879" y="225" width="3" height="1" fill="#0000dd"/><rect x="884" y="209" width="1" height="25" fill="#0000dd"/><rect x="883" y="209" width="3" height="15" fill="#0000dd"/><rect x="887" y="189" width="1" height="36" fill="#0000dd"/><rect x="886" y="193" width="3" height="11" fill="#0000dd"/><rect x="891" y="189" width="1" height="53" fill="#ff0000"/><rect x="890" y="190" width="3" height="32" fill="#ff0000"/><rect x="895" y="222" width="1" height="34" fill="#ff0000"/><rect x="894" y="223" width="3" height="1" fill="#ff0000"/><rect x="899" y="225" width="1" height="19" fill="#ff0000"/><rect x="898" y="228" width="3" height="12" fill="#ff0000"/><rect x="903" y="232" width="1" height="14" fill="#0000dd"/><rect x="902" y="233" width="3" height="5" fill="#0000dd"/><rect x="907" y="216" width="1" height="21" fill="#0000dd"/><rect x="906" y="231" width="3" height="1" fill="#0000dd"/><rect x="911" y="225" width="1" height="14" fill="#0000dd"/><rect x="910" y="225" width="3" height="9" fill="#0000dd"/><rect x="915" y="191" width="1" height="35" fill="#0000dd"/><rect x="914" y="191" width="3" height="33" fill="#0000dd"/><rect x="918" y="175" width="1" height="19" fill="#0000dd"/><rect x="917" y="178" width="3" height="14" fill="#0000dd"/><rect x="922" y="156" width="1" height="16" fill="#0000dd"/><rect x="921" y="163" width="3" height="5" fill="#0000dd"/><rect x="926" y="151" width="1" height="17" fill="#0000dd"/><rect x="925" y="154" width="3" height="12" fill="#0000dd"/><rect x="930" y="142" width="1" height="24" fill="#ff0000"/><rect x="929" y="155" width="3" height="5" fill="#ff0000"/><rect x="934" y="152" width="1" height="26" fill="#ff0000"/><rect x="933" y="161" width="3" height="11" fill="#ff0000"/><rect x="938" y="160" width="1" height="18" fill="#0000dd"/><rect x="937" y="165" width="3" height="7" fill="#0000dd"/><rect x="942" y="155" width="1" height="62" fill="#ff0000"/><rect x="941" y="165" width="3" height="42" fill="#ff0000"/><rect x="945" y="192" width="1" height="21" fill="#0000dd"/><rect x="944" y="202" width="3" height="6" fill="#0000dd"/><rect x="949" y="190" width="1" height="16" fill="#0000dd"/><rect x="948" y="195" width="3" height="7" fill="#0000dd"/><rect x="953" y="178" width="1" height="19" fill="#0000dd"/><rect x="952" y="190" width="3" height="4" fill="#0000dd"/><rect x="957" y="162" width="1" height="32" fill="#0000dd"/><rect x="956" y="162" width="3" height="28" fill="#0000dd"/><rect x="961" y="156" width="1" height="14" fill="#0000dd"/><rect x="960" y="160" width="3" height="4" fill="#0000dd"/><rect x="965" y="140" width="1" height="24" fill="#0000dd"/><rect x="964" y="142" width="3" height="20" fill="#0000dd"/><rect x="969" y="129" width="1" height="21" fill="#0000dd"/><rect x="968" y="133" width="3" height="11" fill="#0000dd"/><rect x="973" y="111" width="1" height="28" fill="#0000dd"/><rect x="972" y="124" width="3" height="9" fill="#0000dd"/><rect x="976" y="118" width="1" height="20" fill="#ff0000"/><rect x="975" y="124" width="3" height="4" fill="#ff0000"/><rect x="980" y="115" width="1" height="25" fill="#0000dd"/><rect x="979" y="118" width="3" height="9" fill="#0000dd"/><rect x="984" y="92" width="1" height="32" fill="#0000dd"/><rect x="983" y="103" width="3" height="16" fill="#0000dd"/><rect x="988" y="88" width="1" height="20" fill="#0000dd"/><rect x="987" y="94" width="3" height="5" fill="#0000dd"/><rect x="992" y="75" width="1" height="21" fill="#0000dd"/><rect x="991" y="80" width="3" height="15" fill="#0000dd"/><rect x="996" y="76" width="1" height="30" fill="#ff0000"/><rect x="995" y="81" width="3" height="25" fill="#ff0000"/><rect x="1000" y="100" width="1" height="28" fill="#ff0000"/><rect x="999" y="106" width="3" height="8" fill="#ff0000"/><rect x="1003" y="92" width="1" height="27" fill="#0000dd"/><rect x="1002" y="94" width="3" height="23" fill="#0000dd"/><rect x="1007" y="65" width="1" height="30" fill="#0000dd"/><rect x="1006" y="70" width="3" height="23" fill="#0000dd"/><rect x="1011" y="58" width="1" height="8" fill="#0000dd"/><rect x="1010" y="60" width="3" height="5" fill="#0000dd"/><rect x="1015" y="50" width="1" height="9" fill="#0000dd"/><rect x="1014" y="52" width="3" height="3" fill="#0000dd"/></g>
<g shape-rendering="crispEdges"><polyline fill="none" stroke="#b01c24" stroke-width="1" points="10.50,403.37 14.50,403.36 18.50,403.70 22.50,403.99 25.50,405.02 29.50,405.64 33.50,406.27 37.50,406.73 41.50,406.99 45.50,407.44 49.50,407.25 52.50,407.08 56.50,407.41 60.50,407.85 64.50,408.85 68.50,409.75 72.50,410.13 76.50,410.34 80.50,410.76 83.50,411.10 87.50,411.01 91.50,410.99 95.50,411.16 99.50,411.42 103.50,412.12 107.50,412.97 111.50,414.32 114.50,416.02 118.50,417.42 122.50,419.45 126.50,421.88 130.50,424.16 134.50,426.50 138.50,428.92 141.50,430.96 145.50,433.07 149.50,435.31 153.50,437.65 157.50,439.70 161.50,441.30 165.50,441.91 168.50,441.99 172.50,441.90 176.50,441.89 180.50,442.00 184.50,442.40 188.50,443.80 192.50,446.35 196.50,448.46 199.50,450.60 203.50,452.40 207.50,454.46 211.50,456.18 215.50,457.84 219.50,459.34 223.50,461.87 226.50,464.37 230.50,466.58 234.50,468.78 238.50,470.67 242.50,472.14 246.50,473.95 250.50,475.99 253.50,476.60 257.50,476.90 261.50,476.99 265.50,477.36 269.50,477.91 273.50,478.80 277.50,479.18 281.50,478.91 284.50,478.31 288.50,478.06 292.50,478.09 296.50,478.66 300.50,479.51 304.50,480.15 308.50,480.76 311.50,481.58 315.50,482.15 319.50,481.78 323.50,481.24 327.50,480.23 331.50,478.64 335.50,476.74 339.50,475.10 342.50,473.64 346.50,471.98 350.50,470.68 354.50,469.73 358.50,468.56 362.50,467.72 366.50,466.41 369.50,464.90 373.50,464.34 377.50,464.09 381.50,464.33 385.50,464.64 389.50,464.79 393.50,463.95 397.50,462.47 400.50,460.82 404.50,459.16 408.50,457.77 412.50,457.05 416.50,457.08 420.50,456.67 424.50,455.06 427.50,453.65 431.50,451.70 435.50,450.60 439.50,449.43 443.50,447.73 447.50,446.19 451.50,444.85 455.50,443.62 458.50,442.84 462.50,441.59 466.50,439.79 470.50,438.32 474.50,436.82 478.50,435.54 482.50,434.41 485.50,432.74 489.50,431.35 493.50,430.21 497.50,429.84 501.50,429.05 505.50,427.47 509.50,425.53 513.50,423.27 516.50,421.38 520.50,420.15 524.50,419.08 528.50,417.69 532.50,416.54 536.50,414.87 540.50,413.37 543.50,411.62 547.50,409.43 551.50,407.27 555.50,404.41 559.50,402.42 563.50,400.70 567.50,399.16 570.50,397.41 574.50,396.05 578.50,393.69 582.50,391.69 586.50,389.98 590.50,387.82 594.50,385.71 598.50,383.86 601.50,381.94 605.50,379.68 609.50,377.71 613.50,375.51 617.50,373.20 621.50,370.73 625.50,368.07 628.50,365.12 632.50,362.39 636.50,360.04 640.50,358.44 644.50,358.23 648.50,356.88 652.50,355.48 656.50,354.88 659.50,354.40 663.50,353.98 667.50,353.79 671.50,354.17 675.50,355.32 679.50,354.99 683.50,353.90 686.50,353.89 690.50,354.00 694.50,353.69 698.50,353.76 702.50,353.61 706.50,353.03 710.50,352.23 714.50,351.83 717.50,352.09 721.50,352.41 725.50,352.74 729.50,353.30 733.50,354.58 737.50,355.32 741.50,356.21 744.50,357.14 748.50,358.41 752.50,358.81 756.50,358.36 760.50,357.81 764.50,357.07 768.50,355.30 772.50,353.61 775.50,352.13 779.50,350.55 783.50,349.05 787.50,347.33 791.50,345.39 795.50,343.64 799.50,341.05 802.50,339.26 806.50,336.71 810.50,333.78 814.50,330.99 818.50,328.20 822.50,325.93 826.50,322.94 830.50,319.36 833.50,315.03 837.50,311.14 841.50,307.53 845.50,303.19 849.50,298.48 853.50,293.13 857.50,286.81 860.50,281.56 864.50,275.81 868.50,270.31 872.50,268.25 876.50,266.25 880.50,264.27 884.50,261.60 887.50,258.29 891.50,256.58 895.50,255.04 899.50,254.32 903.50,253.31 907.50,252.25 911.50,250.95 915.50,248.06 918.50,244.67 922.50,240.72 926.50,236.52 930.50,232.85 934.50,229.89 938.50,226.75 942.50,225.81 945.50,224.68 949.50,223.26 953.50,221.67 957.50,218.79 961.50,215.95 965.50,212.38 969.50,208.55 973.50,204.46 976.50,200.74 980.50,196.74 984.50,192.19 988.50,187.42 992.50,182.21 996.50,178.53 1000.50,175.41 1003.50,171.45 1007.50,166.55 1011.50,161.37 1015.50,156.06"/></g>
<g shape-rendering="crispEdges"><rect x="1" y="30" width="1025" height="1" fill="#000"/><rect x="1" y="544" width="1025" height="1" fill="#000"/><rect x="1" y="30" width="1" height="515" fill="#000"/><rect x="1025" y="30" width="1" height="515" fill="#000"/><rect x="1026" y="542" width="2" height="1" fill="#000"/><rect x="0" y="542" width="1" height="1" fill="#000"/><rect x="1026" y="535" width="1" height="1" fill="#000"/><rect x="0" y="535" width="1" height="1" fill="#000"/><rect x="1026" y="528" width="1" height="1" fill="#000"/><rect x="0" y="528" width="1" height="1" fill="#000"/><rect x="1026" y="521" width="1" height="1" fill="#000"/><rect x="0" y="521" width="1" height="1" fill="#000"/><rect x="1026" y="515" width="1" height="1" fill="#000"/><rect x="0" y="515" width="1" height="1" fill="#000"/><rect x="1026" y="508" width="1" height="1" fill="#000"/><rect x="0" y="508" width="1" height="1" fill="#000"/><rect x="1026" y="502" width="1" height="1" fill="#000"/><rect x="0" y="502" width="1" height="1" fill="#000"/><rect x="1026" y="495" width="1" height="1" fill="#000"/><rect x="0" y="495" width="1" height="1" fill="#000"/><rect x="1026" y="488" width="1" height="1" fill="#000"/><rect x="0" y="488" width="1" height="1" fill="#000"/><rect x="1026" y="481" width="1" height="1" fill="#000"/><rect x="0" y="481" width="1" height="1" fill="#000"/><rect x="1026" y="475" width="2" height="1" fill="#000"/><rect x="0" y="475" width="1" height="1" fill="#000"/><rect x="1026" y="469" width="1" height="1" fill="#000"/><rect x="0" y="469" width="1" height="1" fill="#000"/><rect x="1026" y="462" width="1" height="1" fill="#000"/><rect x="0" y="462" width="1" height="1" fill="#000"/><rect x="1026" y="455" width="1" height="1" fill="#000"/><rect x="0" y="455" width="1" height="1" fill="#000"/><rect x="1026" y="448" width="1" height="1" fill="#000"/><rect x="0" y="448" width="1" height="1" fill="#000"/><rect x="1026" y="442" width="1" height="1" fill="#000"/><rect x="0" y="442" width="1" height="1" fill="#000"/><rect x="1026" y="435" width="1" height="1" fill="#000"/><rect x="0" y="435" width="1" height="1" fill="#000"/><rect x="1026" y="428" width="1" height="1" fill="#000"/><rect x="0" y="428" width="1" height="1" fill="#000"/><rect x="1026" y="422" width="1" height="1" fill="#000"/><rect x="0" y="422" width="1" height="1" fill="#000"/><rect x="1026" y="415" width="1" height="1" fill="#000"/><rect x="0" y="415" width="1" height="1" fill="#000"/><rect x="1026" y="409" width="2" height="1" fill="#000"/><rect x="0" y="409" width="1" height="1" fill="#000"/><rect x="1026" y="402" width="1" height="1" fill="#000"/><rect x="0" y="402" width="1" height="1" fill="#000"/><rect x="1026" y="395" width="1" height="1" fill="#000"/><rect x="0" y="395" width="1" height="1" fill="#000"/><rect x="1026" y="388" width="1" height="1" fill="#000"/><rect x="0" y="388" width="1" height="1" fill="#000"/><rect x="1026" y="382" width="1" height="1" fill="#000"/><rect x="0" y="382" width="1" height="1" fill="#000"/><rect x="1026" y="375" width="1" height="1" fill="#000"/><rect x="0" y="375" width="1" height="1" fill="#000"/><rect x="1026" y="368" width="1" height="1" fill="#000"/><rect x="0" y="368" width="1" height="1" fill="#000"/><rect x="1026" y="362" width="1" height="1" fill="#000"/><rect x="0" y="362" width="1" height="1" fill="#000"/><rect x="1026" y="355" width="1" height="1" fill="#000"/><rect x="0" y="355" width="1" height="1" fill="#000"/><rect x="1026" y="348" width="1" height="1" fill="#000"/><rect x="0" y="348" width="1" height="1" fill="#000"/><rect x="1026" y="342" width="2" height="1" fill="#000"/><rect x="0" y="342" width="1" height="1" fill="#000"/><rect x="1026" y="335" width="1" height="1" fill="#000"/><rect x="0" y="335" width="1" height="1" fill="#000"/><rect x="1026" y="328" width="1" height="1" fill="#000"/><rect x="0" y="328" width="1" height="1" fill="#000"/><rect x="1026" y="322" width="1" height="1" fill="#000"/><rect x="0" y="322" width="1" height="1" fill="#000"/><rect x="1026" y="315" width="1" height="1" fill="#000"/><rect x="0" y="315" width="1" height="1" fill="#000"/><rect x="1026" y="308" width="1" height="1" fill="#000"/><rect x="0" y="308" width="1" height="1" fill="#000"/><rect x="1026" y="302" width="1" height="1" fill="#000"/><rect x="0" y="302" width="1" height="1" fill="#000"/><rect x="1026" y="295" width="1" height="1" fill="#000"/><rect x="0" y="295" width="1" height="1" fill="#000"/><rect x="1026" y="288" width="1" height="1" fill="#000"/><rect x="0" y="288" width="1" height="1" fill="#000"/><rect x="1026" y="281" width="1" height="1" fill="#000"/><rect x="0" y="281" width="1" height="1" fill="#000"/><rect x="1026" y="275" width="2" height="1" fill="#000"/><rect x="0" y="275" width="1" height="1" fill="#000"/><rect x="1026" y="269" width="1" height="1" fill="#000"/><rect x="0" y="269" width="1" height="1" fill="#000"/><rect x="1026" y="262" width="1" height="1" fill="#000"/><rect x="0" y="262" width="1" height="1" fill="#000"/><rect x="1026" y="255" width="1" height="1" fill="#000"/><rect x="0" y="255" width="1" height="1" fill="#000"/><rect x="1026" y="248" width="1" height="1" fill="#000"/><rect x="0" y="248" width="1" height="1" fill="#000"/><rect x="1026" y="242" width="1" height="1" fill="#000"/><rect x="0" y="242" width="1" height="1" fill="#000"/><rect x="1026" y="235" width="1" height="1" fill="#000"/><rect x="0" y="235" width="1" height="1" fill="#000"/><rect x="1026" y="228" width="1" height="1" fill="#000"/><rect x="0" y="228" width="1" height="1" fill="#000"/><rect x="1026" y="222" width="1" height="1" fill="#000"/><rect x="0" y="222" width="1" height="1" fill="#000"/><rect x="1026" y="215" width="1" height="1" fill="#000"/><rect x="0" y="215" width="1" height="1" fill="#000"/><rect x="1026" y="209" width="2" height="1" fill="#000"/><rect x="0" y="209" width="1" height="1" fill="#000"/><rect x="1026" y="202" width="1" height="1" fill="#000"/><rect x="0" y="202" width="1" height="1" fill="#000"/><rect x="1026" y="195" width="1" height="1" fill="#000"/><rect x="0" y="195" width="1" height="1" fill="#000"/><rect x="1026" y="188" width="1" height="1" fill="#000"/><rect x="0" y="188" width="1" height="1" fill="#000"/><rect x="1026" y="182" width="1" height="1" fill="#000"/><rect x="0" y="182" width="1" height="1" fill="#000"/><rect x="1026" y="175" width="1" height="1" fill="#000"/><rect x="0" y="175" width="1" height="1" fill="#000"/><rect x="1026" y="168" width="1" height="1" fill="#000"/><rect x="0" y="168" width="1" height="1" fill="#000"/><rect x="1026" y="162" width="1" height="1" fill="#000"/><rect x="0" y="162" width="1" height="1" fill="#000"/><rect x="1026" y="155" width="1" height="1" fill="#000"/><rect x="0" y="155" width="1" height="1" fill="#000"/><rect x="1026" y="148" width="1" height="1" fill="#000"/><rect x="0" y="148" width="1" height="1" fill="#000"/><rect x="1026" y="142" width="2" height="1" fill="#000"/><rect x="0" y="142" width="1" height="1" fill="#000"/><rect x="1026" y="135" width="1" height="1" fill="#000"/><rect x="0" y="135" width="1" height="1" fill="#000"/><rect x="1026" y="128" width="1" height="1" fill="#000"/><rect x="0" y="128" width="1" height="1" fill="#000"/><rect x="1026" y="122" width="1" height="1" fill="#000"/><rect x="0" y="122" width="1" height="1" fill="#000"/><rect x="1026" y="115" width="1" height="1" fill="#000"/><rect x="0" y="115" width="1" height="1" fill="#000"/><rect x="1026" y="108" width="1" height="1" fill="#000"/><rect x="0" y="108" width="1" height="1" fill="#000"/><rect x="1026" y="102" width="1" height="1" fill="#000"/><rect x="0" y="102" width="1" height="1" fill="#000"/><rect x="1026" y="95" width="1" height="1" fill="#000"/><rect x="0" y="95" width="1" height="1" fill="#000"/><rect x="1026" y="88" width="1" height="1" fill="#000"/><rect x="0" y="88" width="1" height="1" fill="#000"/><rect x="1026" y="81" width="1" height="1" fill="#000"/><rect x="0" y="81" width="1" height="1" fill="#000"/><rect x="1026" y="75" width="2" height="1" fill="#000"/><rect x="0" y="75" width="1" height="1" fill="#000"/><rect x="1026" y="68" width="1" height="1" fill="#000"/><rect x="0" y="68" width="1" height="1" fill="#000"/><rect x="1026" y="61" width="1" height="1" fill="#000"/><rect x="0" y="61" width="1" height="1" fill="#000"/><rect x="1026" y="54" width="1" height="1" fill="#000"/><rect x="0" y="54" width="1" height="1" fill="#000"/><rect x="1026" y="48" width="1" height="1" fill="#000"/><rect x="0" y="48" width="1" height="1" fill="#000"/><rect x="1026" y="41" width="1" height="1" fill="#000"/><rect x="0" y="41" width="1" height="1" fill="#000"/><rect x="1026" y="34" width="1" height="1" fill="#000"/><rect x="0" y="34" width="1" height="1" fill="#000"/><rect x="10" y="545" width="1" height="4" fill="#000"/><rect x="22" y="545" width="1" height="4" fill="#000"/><rect x="72" y="545" width="1" height="4" fill="#000"/><rect x="122" y="545" width="1" height="4" fill="#000"/><rect x="172" y="545" width="1" height="4" fill="#000"/><rect x="223" y="545" width="1" height="4" fill="#000"/><rect x="273" y="545" width="1" height="4" fill="#000"/><rect x="323" y="545" width="1" height="4" fill="#000"/><rect x="373" y="545" width="1" height="4" fill="#000"/><rect x="424" y="545" width="1" height="4" fill="#000"/><rect x="474" y="545" width="1" height="4" fill="#000"/><rect x="524" y="545" width="1" height="4" fill="#000"/><rect x="574" y="545" width="1" height="4" fill="#000"/><rect x="625" y="545" width="1" height="4" fill="#000"/><rect x="675" y="545" width="1" height="4" fill="#000"/><rect x="725" y="545" width="1" height="4" fill="#000"/><rect x="775" y="545" width="1" height="4" fill="#000"/><rect x="830" y="545" width="1" height="4" fill="#000"/><rect x="876" y="545" width="1" height="4" fill="#000"/><rect x="926" y="545" width="1" height="4" fill="#000"/><rect x="980" y="545" width="1" height="4" fill="#000"/></g>
<text x="9.91" y="21.00" font-size="17.44" fill="#000" textLength="166.59" lengthAdjust="spacingAndGlyphs">Palladium (1st mth)</text>
<text x="187.63" y="21.00" font-size="17.44" fill="#000" textLength="180.14" lengthAdjust="spacingAndGlyphs">(PA1 COMB COMDTY)</text>
<text x="374.41" y="21.00" font-size="17.44" fill="#000" textLength="70.55" lengthAdjust="spacingAndGlyphs">1868.50</text>
<text x="449.23" y="21.00" font-size="17.44" fill="#0000ff" textLength="37.52" lengthAdjust="spacingAndGlyphs">24.3</text>
<text x="984.82" y="20.00" font-size="15.99" fill="#000" textLength="89.67" lengthAdjust="spacingAndGlyphs">2019-12-10</text>
<text x="9.93" y="44.50" font-size="14.10" fill="#0000ff" textLength="49.30" lengthAdjust="spacingAndGlyphs">Weekly</text>
<text x="9.58" y="65.00" font-size="14.10" fill="#b22222" textLength="61.30" lengthAdjust="spacingAndGlyphs">EMA 200</text>
<text x="1029.98" y="480.00" font-size="13.08" fill="#000" textLength="23.57" lengthAdjust="spacingAndGlyphs">600</text>
<text x="1030.09" y="414.00" font-size="13.08" fill="#000" textLength="23.46" lengthAdjust="spacingAndGlyphs">800</text>
<text x="1030.74" y="347.00" font-size="13.08" fill="#000" textLength="31.01" lengthAdjust="spacingAndGlyphs">1000</text>
<text x="1030.74" y="280.00" font-size="13.08" fill="#000" textLength="31.01" lengthAdjust="spacingAndGlyphs">1200</text>
<text x="1030.74" y="214.00" font-size="13.08" fill="#000" textLength="31.01" lengthAdjust="spacingAndGlyphs">1400</text>
<text x="1030.74" y="147.00" font-size="13.08" fill="#000" textLength="31.01" lengthAdjust="spacingAndGlyphs">1600</text>
<text x="1030.74" y="80.00" font-size="13.08" fill="#000" textLength="31.01" lengthAdjust="spacingAndGlyphs">1800</text>
<text x="7.83" y="563.00" font-size="12.35" fill="#000" textLength="32.03" lengthAdjust="spacingAndGlyphs">2015</text>
<text x="62.87" y="563.00" font-size="12.35" fill="#000" textLength="22.27" lengthAdjust="spacingAndGlyphs">Apr</text>
<text x="116.56" y="563.00" font-size="12.35" fill="#000" textLength="15.29" lengthAdjust="spacingAndGlyphs">Jul</text>
<text x="162.95" y="563.00" font-size="12.35" fill="#000" textLength="21.35" lengthAdjust="spacingAndGlyphs">Oct</text>
<text x="208.83" y="563.00" font-size="12.35" fill="#000" textLength="32.06" lengthAdjust="spacingAndGlyphs">2016</text>
<text x="263.87" y="563.00" font-size="12.35" fill="#000" textLength="22.27" lengthAdjust="spacingAndGlyphs">Apr</text>
<text x="317.56" y="563.00" font-size="12.35" fill="#000" textLength="15.29" lengthAdjust="spacingAndGlyphs">Jul</text>
<text x="363.95" y="563.00" font-size="12.35" fill="#000" textLength="21.35" lengthAdjust="spacingAndGlyphs">Oct</text>
<text x="409.82" y="563.00" font-size="12.35" fill="#000" textLength="32.15" lengthAdjust="spacingAndGlyphs">2017</text>
<text x="464.87" y="563.00" font-size="12.35" fill="#000" textLength="22.27" lengthAdjust="spacingAndGlyphs">Apr</text>
<text x="518.56" y="563.00" font-size="12.35" fill="#000" textLength="15.29" lengthAdjust="spacingAndGlyphs">Jul</text>
<text x="564.95" y="563.00" font-size="12.35" fill="#000" textLength="21.35" lengthAdjust="spacingAndGlyphs">Oct</text>
<text x="610.83" y="563.00" font-size="12.35" fill="#000" textLength="32.05" lengthAdjust="spacingAndGlyphs">2018</text>
<text x="665.87" y="563.00" font-size="12.35" fill="#000" textLength="22.27" lengthAdjust="spacingAndGlyphs">Apr</text>
<text x="719.56" y="563.00" font-size="12.35" fill="#000" textLength="15.29" lengthAdjust="spacingAndGlyphs">Jul</text>
<text x="765.95" y="563.00" font-size="12.35" fill="#000" textLength="21.35" lengthAdjust="spacingAndGlyphs">Oct</text>
<text x="815.82" y="563.00" font-size="12.35" fill="#000" textLength="32.11" lengthAdjust="spacingAndGlyphs">2019</text>
<text x="866.87" y="563.00" font-size="12.35" fill="#000" textLength="22.27" lengthAdjust="spacingAndGlyphs">Apr</text>
<text x="920.56" y="563.00" font-size="12.35" fill="#000" textLength="15.29" lengthAdjust="spacingAndGlyphs">Jul</text>
<text x="970.95" y="563.00" font-size="12.35" fill="#000" textLength="21.35" lengthAdjust="spacingAndGlyphs">Oct</text>
<text x="1.02" y="590.00" font-size="15.70" fill="#0000ff" textLength="210.89" lengthAdjust="spacingAndGlyphs">www.fullertreacymoney.com</text>
<text x="624.99" y="590.20" font-size="13.95" fill="#999999" textLength="449.42" lengthAdjust="spacingAndGlyphs">This website is © 2008-2019 Fuller Treacy Money plc. All rights reserved</text>
</svg></body></html>
